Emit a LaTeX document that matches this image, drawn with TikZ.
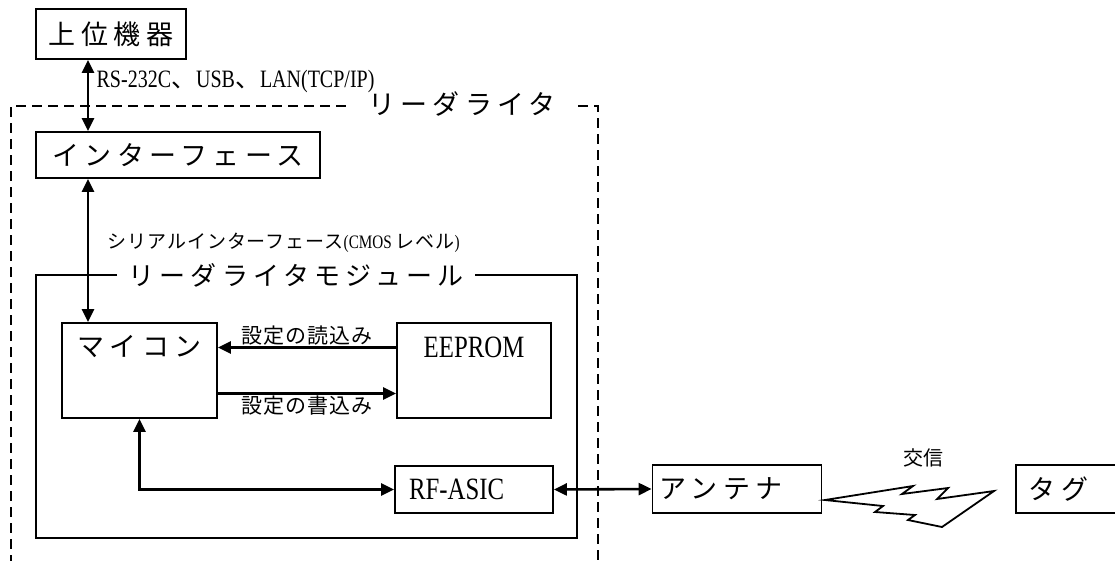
\documentclass[tikz,border=0pt]{standalone}
\usepackage{fontspec}
\setmainfont{Liberation Serif}
\newfontfamily\nar[FakeStretch=0.8]{Liberation Serif}
\newfontfamily\jp[LetterSpace=20]{Noto Sans CJK JP}
\newfontfamily\jpm[LetterSpace=5]{Noto Sans CJK JP}
\newfontfamily\jpg{Noto Sans CJK JP}
\usetikzlibrary{arrows.meta}

\begin{document}
\begin{tikzpicture}[x=1pt,y=-1pt,
  blk/.style={draw,line width=1.8pt,inner sep=0pt,font=\fontsize{27}{27}\selectfont\jp},
  latin/.style={font=\fontsize{31}{31}\selectfont\nar},
  arr/.style={line width=2.6pt,{Triangle[length=13pt,width=12pt]}-{Triangle[length=13pt,width=12pt]}},
  sarr/.style={line width=2.6pt,-{Triangle[length=13pt,width=12pt]}},
  lbl/.style={font=\fontsize{21}{21}\selectfont\jpm,inner sep=1pt},
  frame/.style={line width=1.8pt},
  dframe/.style={line width=1.8pt,dash pattern=on 10pt off 6pt}]

\useasboundingbox (0,0) rectangle (1115,560);

% boxes
\node (host) [blk,minimum width=150pt,minimum height=50pt] at (111,34) {上位機器};
\node (iface) [blk,minimum width=284pt,minimum height=46pt] at (178,155) {インターフェース};
\node (mcu) [blk,minimum width=155pt,minimum height=95pt,
  label={[anchor=north,yshift=-10pt,font=\fontsize{27}{27}\selectfont\jp]north:マイコン}] at (139.5,370.5) {};
\node (eep) [blk,minimum width=154pt,minimum height=95pt,
  label={[anchor=north,yshift=-11pt,latin]north:EEPROM}] at (474,370.5) {};
\node (rf) [blk,latin,minimum width=154pt,minimum height=47pt,text width=130pt,align=left,inner xsep=14pt] at (474,489.5) {RF-ASIC};
\node (ant) [blk,minimum width=169pt,minimum height=48pt,text width=155pt,align=left,inner xsep=7pt] at (737,489) {アンテナ};
\node (tag) [blk,anchor=west,minimum height=48pt,text width=85pt,align=left,inner xsep=13pt] at (1015,489) {タグ};

% frames
\node (rwtitle) [font=\fontsize{27}{27}\selectfont\jp,inner xsep=22pt] at (462,104) {リーダライタ};
\draw [dframe] (rwtitle.west |- 0,106) -- (11,106) -- (11,575);
\draw [dframe] (rwtitle.east |- 0,106) -- (598,106) -- (598,575);

\node (modtitle) [font=\fontsize{26}{26}\selectfont\jp,inner xsep=11pt] at (296,275) {リーダライタモジュール};
\draw [frame] (modtitle.west |- 0,275) -- (36,275) -- (36,538) -- (577,538) -- (577,275) -- (modtitle.east |- 0,275);

% connectors
\coordinate (bus) at (88,0);
\draw [arr] (host.south -| bus) -- (iface.north -| bus)
  node [pos=0.3,anchor=west,font=\fontsize{25}{25}\selectfont\nar,xshift=4pt] (rslbl) {RS-232C{\jpg 、}USB{\jpg 、}LAN(TCP/IP)};
\draw [arr] (iface.south -| bus) -- (mcu.north -| bus);
\node (serlbl) [anchor=west,font=\fontsize{19}{19}\selectfont\nar] at (104,243) {{\jpm シリアルインターフェース}(CMOS {\jpm レベル})};

\draw [sarr] ([yshift=23pt]eep.west) -- ([yshift=23pt]mcu.east) node [lbl,midway,above] (rdlbl) {設定の読込み};
\draw [sarr] ([yshift=-23pt]mcu.east) -- ([yshift=-23pt]eep.west) node [lbl,midway,below] (wrlbl) {設定の書込み};

\draw [arr] (mcu.south) |- (rf.west);
\draw [arr] (rf.east) -- (ant.west);

% radio link
\node (com) [font=\fontsize{20}{20}\selectfont\jpg] at (923,458) {交信};
\draw [line width=1.8pt,line join=miter] (825,500) -- (913,486) -- (902,494) -- (948,488) -- (937,499) -- (994,491)
  -- (942,527) -- (908,520) -- (915,515) -- (875,512) -- (883,506) -- cycle;

\end{tikzpicture}
\end{document}
